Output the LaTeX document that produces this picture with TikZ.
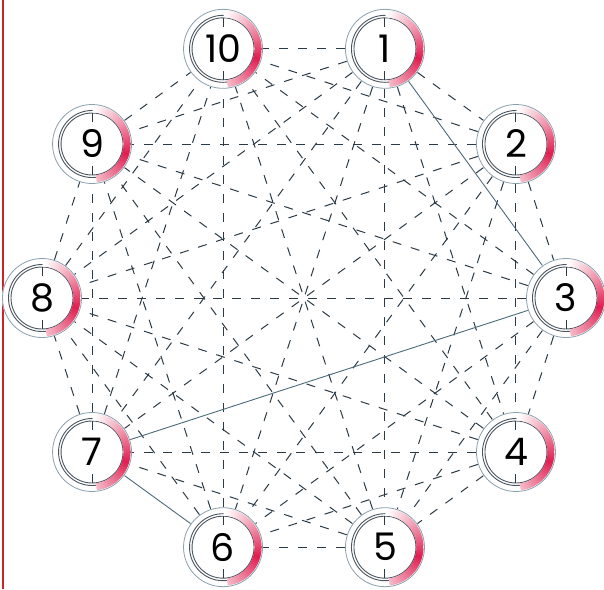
\documentclass[tikz,border=0pt]{standalone}
\usepackage{fontspec}
\setmainfont{Poppins}
\definecolor{edgec}{HTML}{2B3A45}
\definecolor{solidc}{HTML}{4D6A7A}
\definecolor{ringo}{HTML}{8AA0AD}
\definecolor{ringi}{HTML}{4A5560}
\definecolor{hotred}{RGB}{225,30,80}
\definecolor{barred}{RGB}{208,32,42}
\tikzset{
  numnode/.style={circle, minimum size=80pt, inner sep=0pt, fill=white,
    font=\fontsize{38}{38}\selectfont, text=black},
  dashedge/.style={draw=edgec, line width=1pt, dash pattern=on 9pt off 10pt},
  solidedge/.style={draw=solidc, line width=0.9pt},
  outring/.style={draw=ringo, line width=0.8pt},
  inring/.style={draw=ringi, line width=0.9pt},
  tickline/.style={draw=edgec, line width=1pt}
}
\begin{document}
\begin{tikzpicture}[x=1pt,y=-1pt]
\useasboundingbox (0,0) rectangle (604,589);
\draw[barred, line width=2.5pt] (3,0) -- (3,589);
% nodes
\foreach \i in {1,...,10}{
  \pgfmathsetmacro\ang{72-(\i-1)*36}
  \node[numnode] (n\i) at ({304+262*cos(\ang)},{298-262*sin(\ang)}) {\i};
}
% edges
\foreach \i in {1,...,9}{
  \pgfmathtruncatemacro\s{\i+1}
  \foreach \j in {\s,...,10}{
    \pgfmathtruncatemacro\skp{((\i==1)&&(\j==3))||((\i==3)&&(\j==7))||((\i==6)&&(\j==7))}
    \ifnum\skp=0 \draw[dashedge] (n\i) -- (n\j);\fi
  }
}
\draw[solidedge] (n1) -- (n3);
\draw[solidedge] (n3) -- (n7);
\draw[solidedge] (n7) -- (n6);
% node decorations
\foreach \i in {1,...,10}{
  \draw[outring] (n\i.center) circle (39.5);
  \draw[inring] (n\i.center) circle (33.5);
  \draw[inring] (n\i.center) circle (31);
  \foreach \t in {-81,-78,...,87}{
    \pgfmathsetmacro\p{100*(max(1-abs(\t+15)/102,0.001)^1.1)}
    \pgfmathsetmacro\sa{-\t-2}
    \pgfmathsetmacro\ea{-\t+2}
    \draw[hotred!\p!white, line width=7pt] (n\i.center) ++(\sa:35) arc[start angle=\sa, end angle=\ea, radius=35];
  }
  \draw[tickline] (n\i.center) ++(0,-31) -- ++(0,9);
  \draw[tickline] (n\i.center) ++(0,31) -- ++(0,-9);
}
\end{tikzpicture}
\end{document}
